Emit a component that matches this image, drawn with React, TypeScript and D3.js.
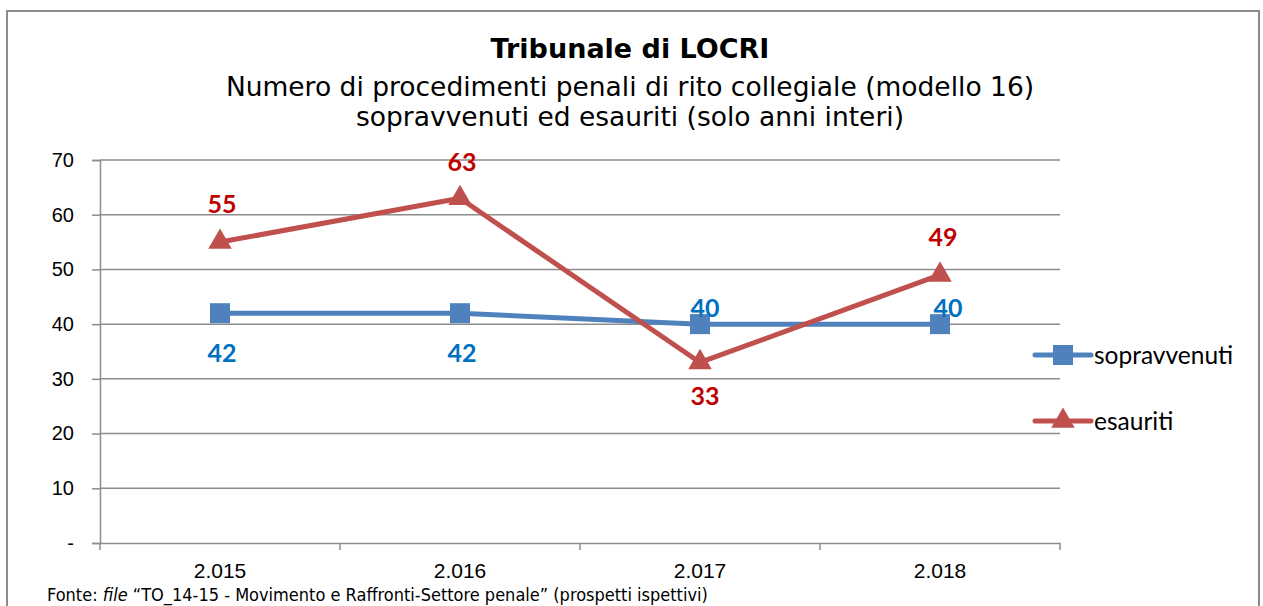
import React, { useRef, useEffect } from "react";
import * as d3 from "d3";

const years = ["2.015", "2.016", "2.017", "2.018"];
const sopravvenuti = [42, 42, 40, 40];
const esauriti = [55, 63, 33, 49];
const yTicks = [0, 10, 20, 30, 40, 50, 60, 70];

// spostamento delle etichette rispetto al punto (dx, dy della linea di base)
const sopravLabelOffset = [
  [2, 49],
  [2, 49],
  [5, -7],
  [8, -7],
];
const esauritiLabelOffset = [
  [2, -29],
  [2, -27],
  [5, 43],
  [3, -29],
];

const W = 1263;
const H = 606;

const App = () => {
  const ref = useRef<SVGSVGElement>(null);

  useEffect(() => {
    const svg = d3.select(ref.current);
    svg.selectAll("*").remove();

    const margin = { top: 160, left: 100, right: 1060, bottom: 543 };

    const x = d3.scaleBand().domain(years).range([margin.left, margin.right]);
    const y = d3.scaleLinear().domain([0, 70]).range([margin.bottom, margin.top]);
    const cx = (d: string) => (x(d) as number) + x.bandwidth() / 2;

    // bordo esterno
    svg
      .append("rect")
      .attr("x", 7)
      .attr("y", 11)
      .attr("width", 1252)
      .attr("height", 620)
      .attr("fill", "#fff")
      .attr("stroke", "#8c8c8c")
      .attr("stroke-width", 2);

    // titoli
    svg
      .append("text")
      .attr("x", 630)
      .attr("y", 58)
      .attr("text-anchor", "middle")
      .attr("font-family", "DejaVu Sans")
      .attr("font-weight", "bold")
      .attr("font-size", 27)
      .text("Tribunale di LOCRI");
    const sub = [
      "Numero di procedimenti penali di rito collegiale (modello 16)",
      "sopravvenuti ed esauriti (solo anni interi)",
    ];
    svg
      .append("g")
      .selectAll("text")
      .data(sub)
      .join("text")
      .attr("x", 630)
      .attr("y", (d, i) => 96 + i * 30)
      .attr("text-anchor", "middle")
      .attr("font-family", "DejaVu Sans")
      .attr("font-size", 26.5)
      .text((d) => d);

    // griglia
    svg
      .append("g")
      .selectAll("line")
      .data(yTicks.slice(1))
      .join("line")
      .attr("x1", margin.left)
      .attr("x2", margin.right)
      .attr("y1", (d) => y(d))
      .attr("y2", (d) => y(d))
      .attr("stroke", "#8c8c8c")
      .attr("stroke-width", 1.5);

    // asse y
    const yAxis = svg
      .append("g")
      .attr("transform", `translate(${margin.left},0)`)
      .call(
        d3
          .axisLeft(y)
          .tickValues(yTicks)
          .tickSize(8)
          .tickPadding(18)
          .tickFormat((d) => (d === 0 ? "-" : String(d)))
      );
    yAxis.selectAll("path, line").attr("stroke", "#8c8c8c").attr("stroke-width", 1.5);
    yAxis
      .selectAll("text")
      .attr("font-family", "Liberation Sans")
      .attr("font-size", 20)
      .attr("fill", "#000");

    // asse x
    const xAxis = svg
      .append("g")
      .attr("transform", `translate(0,${margin.bottom})`)
      .call(d3.axisBottom(x).tickSize(0).tickPadding(20));
    xAxis.select("path").attr("stroke", "#8c8c8c").attr("stroke-width", 1.5);
    xAxis
      .selectAll("text")
      .attr("font-family", "Liberation Sans")
      .attr("font-size", 21)
      .attr("fill", "#000");
    svg
      .append("g")
      .selectAll("line")
      .data(d3.range(years.length + 1))
      .join("line")
      .attr("x1", (i) => margin.left + i * x.bandwidth())
      .attr("x2", (i) => margin.left + i * x.bandwidth())
      .attr("y1", margin.bottom)
      .attr("y2", margin.bottom + 7)
      .attr("stroke", "#8c8c8c")
      .attr("stroke-width", 1.5);

    const line = d3
      .line<number>()
      .x((d, i) => cx(years[i]))
      .y((d) => y(d));

    const series = [
      { name: "sopravvenuti", values: sopravvenuti, color: "#4f81bd", label: "#0070c0", off: sopravLabelOffset, marker: "square" },
      { name: "esauriti", values: esauriti, color: "#c0504d", label: "#c00000", off: esauritiLabelOffset, marker: "triangle" },
    ];

    const square = d3.symbol(d3.symbolSquare, 400);
    const tri = d3.symbol(d3.symbolTriangle, 240);

    series.forEach((s) => {
      svg
        .append("path")
        .datum(s.values)
        .attr("d", line)
        .attr("fill", "none")
        .attr("stroke", s.color)
        .attr("stroke-width", 5)
        .attr("stroke-linejoin", "round");
      svg
        .append("g")
        .selectAll("path")
        .data(s.values)
        .join("path")
        .attr("transform", (d, i) => `translate(${cx(years[i])},${y(d)})`)
        .attr("d", s.marker === "square" ? square() : tri())
        .attr("fill", s.color);
      svg
        .append("g")
        .selectAll("text")
        .data(s.values)
        .join("text")
        .attr("x", (d, i) => cx(years[i]) + s.off[i][0])
        .attr("y", (d, i) => y(d) + s.off[i][1])
        .attr("text-anchor", "middle")
        .attr("font-family", "Lato")
        .attr("font-weight", "bold")
        .attr("font-size", 25)
        .attr("fill", s.label)
        .text((d) => d);
    });

    // legenda
    const leg = svg
      .append("g")
      .selectAll("g")
      .data(series)
      .join("g")
      .attr("transform", (d, i) => `translate(1035,${355 + i * 66})`);
    leg
      .append("line")
      .attr("x1", 0)
      .attr("x2", 56)
      .attr("stroke", (d) => d.color)
      .attr("stroke-width", 5)
      .attr("stroke-linecap", "round");
    leg
      .append("path")
      .attr("transform", "translate(28,0)")
      .attr("d", (d) => (d.marker === "square" ? square() : tri()))
      .attr("fill", (d) => d.color);
    leg
      .append("text")
      .attr("x", 59)
      .attr("dy", "0.35em")
      .attr("font-family", "Lato")
      .attr("font-size", 24.5)
      .text((d) => d.name);

    // fonte
    const fonte = svg
      .append("text")
      .attr("x", 47)
      .attr("y", 601)
      .attr("font-family", "DejaVu Sans Condensed, DejaVu Sans")
      .attr("font-size", 18);
    fonte.append("tspan").text("Fonte: ");
    fonte.append("tspan").attr("font-style", "italic").text("file");
    fonte
      .append("tspan")
      .text(" \u201CTO_14-15 - Movimento e Raffronti-Settore penale\u201D (prospetti ispettivi)");
  }, []);

  return (
    <svg
      ref={ref}
      width={W}
      height={H}
      style={{ position: "absolute", left: 0, top: 0, background: "#fff" }}
    />
  );
};

export default App;
